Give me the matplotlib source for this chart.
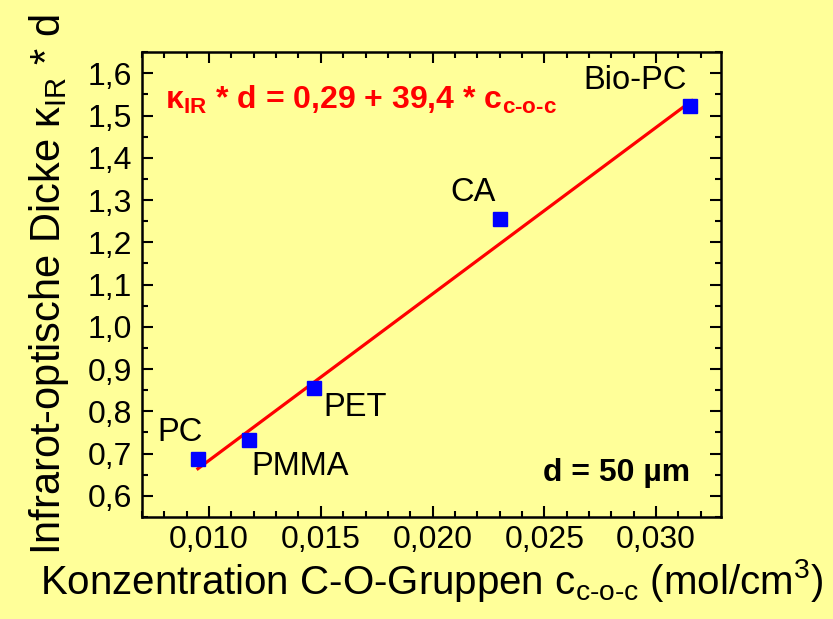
import numpy as np
import matplotlib
matplotlib.use('Agg')
import matplotlib.pyplot as plt
from matplotlib.ticker import MultipleLocator, FuncFormatter

#--------------------- DATA ----------------------------------------------
polymers = ['PC', 'PMMA', 'PET', 'CA', 'Bio-PC']
c_coc = [0.0095, 0.0118, 0.0147, 0.0230, 0.0315]      # mol/cm^3
kappa_d = [0.688, 0.733, 0.856, 1.256, 1.522]          # kappa_IR * d
fit_a, fit_b = 0.29, 39.4                              # kappa*d = a + b*c
label_offsets = [(-18, 26), (51, -27), (41, -20), (-27, 26), (-55, 26)]  # px from marker

#--------------------- STYLE ----------------------------------------------
plt.rcParams['font.family'] = ['Liberation Sans', 'DejaVu Sans']
plt.rcParams['mathtext.fontset'] = 'custom'
plt.rcParams['mathtext.rm'] = 'Liberation Sans'
plt.rcParams['mathtext.it'] = 'Liberation Sans'
plt.rcParams['mathtext.bf'] = 'Liberation Sans:bold'
bg = '#FFFF99'

fig = plt.figure(figsize=(8.33, 6.19), dpi=100, facecolor=bg)
ax = fig.add_axes([0.1705, 0.1648, 0.695, 0.751], facecolor=bg)

# fit line
xf = np.array([c_coc[0], c_coc[-1] + 0.0001])
ax.plot(xf, fit_a + fit_b * xf, color='#FF0000', lw=2.3, zorder=2)
# data points
ax.plot(c_coc, kappa_d, 's', color='#0000FF', ms=9.5, zorder=3)

for name, x, y, (dx, dy) in zip(polymers, c_coc, kappa_d, label_offsets):
    ax.annotate(name, (x, y), xytext=(dx * 0.72, dy * 0.72), textcoords='offset points',
                ha='center', va='center', fontsize=23.5)

ax.text(0.04, 0.897, '$\\mathbf{\\kappa_{IR}}$ * d = 0,29 + 39,4 * c$_{\\mathbf{c\u2010o\u2010c}}$',
        transform=ax.transAxes, color='#FF0000', fontsize=23, fontweight='bold',
        ha='left', va='center')
ax.text(0.946, 0.095, 'd = 50 µm', transform=ax.transAxes, fontsize=23,
        fontweight='bold', ha='right', va='center')

ax.set_xlim(0.0070, 0.0329)
ax.set_ylim(0.55, 1.65)
ax.xaxis.set_major_locator(MultipleLocator(0.005))
ax.xaxis.set_minor_locator(MultipleLocator(0.001))
ax.yaxis.set_major_locator(MultipleLocator(0.1))
ax.yaxis.set_minor_locator(MultipleLocator(0.05))
ax.xaxis.set_major_formatter(FuncFormatter(lambda v, p: f'{v:.3f}'.replace('.', ',')))
ax.yaxis.set_major_formatter(FuncFormatter(lambda v, p: f'{v:.1f}'.replace('.', ',')))

ax.tick_params(which='both', direction='in', top=True, right=True, width=1.5,
               labelsize=23, colors='black')
ax.tick_params(which='major', length=8)
ax.tick_params(which='minor', length=4)
ax.tick_params(axis='x', which='major', pad=6)
ax.tick_params(axis='y', which='major', pad=7)
for s in ax.spines.values():
    s.set_linewidth(1.8)

ax.set_xlabel(r'Konzentration C-O-Gruppen c$_{\text{c-o-c}}$ (mol/cm$^{3}$)', fontsize=29, labelpad=1)
ax.set_ylabel(r'Infrarot-optische Dicke $\kappa_{IR}$ * d', fontsize=30, labelpad=12)

plt.savefig('out.png', dpi=100, facecolor=bg)
